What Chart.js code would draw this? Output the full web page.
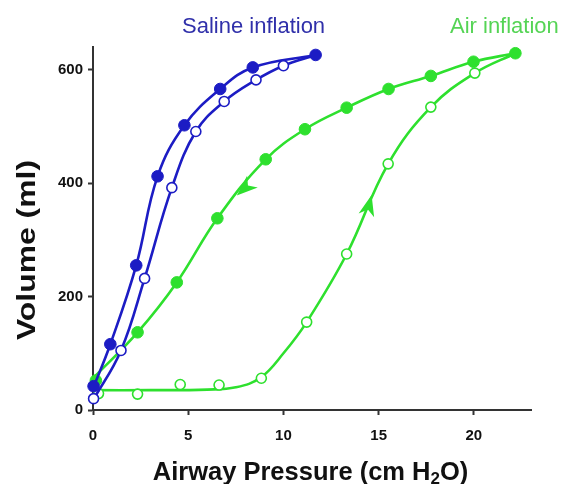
<!DOCTYPE html>
<html lang="en">
<head>
    <meta charset="UTF-8">
    <title>Pressure-volume curves</title>
    <style>
        body {
            margin: 0;
            background: #ffffff;
        }
        #contenedor {
            width: 562px;
            height: 484px;
            position: relative;
        }
    </style>
    <script src="https://cdn.jsdelivr.net/npm/chart.js"></script>
</head>
<body>

<div id="contenedor">
    <canvas id="grafico"></canvas>
</div>

<script>
// Ticks de los ejes
const presionTicks = [0, 5, 10, 15, 20];
const volumenTicks = [0, 200, 400, 600];

// Salino: puntos medidos (llenos = deflación, vacíos = inflación)
const salinoDefX = [0.03, 0.91, 2.27, 3.39, 4.80, 6.68, 8.39, 11.69];
const salinoDefY = [42, 116, 255, 412, 502, 566, 604, 626];
const salinoInfX = [0.03, 1.47, 2.71, 4.14, 5.40, 6.89, 8.56, 10.0];
const salinoInfY = [20, 105, 232, 392, 491, 544, 582, 607];

// Aire: puntos medidos
const aireDefX = [0.15, 2.34, 4.40, 6.53, 9.07, 11.13, 13.32, 15.52, 17.74, 19.98, 22.18];
const aireDefY = [52, 137, 225, 338, 442, 495, 533, 566, 589, 614, 629];
const aireInfX = [0.29, 2.34, 4.58, 6.62, 8.84, 11.22, 13.32, 15.50, 17.74, 20.05];
const aireInfY = [29, 28, 45, 44, 56, 155, 275, 434, 534, 594];

// Curvas ajustadas
const curvaSalDefX = [0, 0.91, 2.27, 3.39, 4.80, 6.68, 8.39, 11.69];
const curvaSalDefY = [38, 116, 255, 412, 502, 566, 604, 626];
const curvaSalInfX = [0, 1.47, 2.71, 4.14, 5.40, 6.89, 8.56, 10.0, 11.69];
const curvaSalInfY = [17, 105, 232, 392, 491, 544, 582, 607, 626];
const curvaAireDefX = [0, 2.34, 4.40, 6.53, 9.07, 11.13, 13.32, 15.52, 17.74, 19.98, 22.18];
const curvaAireDefY = [56, 137, 225, 338, 442, 495, 533, 566, 589, 614, 629];
const curvaAireInfX = [0, 3, 6, 7.5, 8.8, 10, 11.22, 13.32, 15.5, 17.74, 20.05, 22.18];
const curvaAireInfY = [35, 35, 36, 40, 57, 100, 155, 275, 434, 534, 594, 629];

// Flechas sobre las curvas de aire (punta y base)
const flechaPuntaX = [7.55, 14.63];
const flechaPuntaY = [378, 379];
const flechaBaseX = [8.45, 14.37];
const flechaBaseY = [405, 345];

const azul = '#1c1cc4';
const verde = '#2ee02e';
const fuente = '"Liberation Sans", Arial, sans-serif';

function puntos(xs, ys) {
    return xs.map((x, i) => ({ x: x, y: ys[i] }));
}

function curva(xs, ys, color) {
    return {
        data: puntos(xs, ys),
        showLine: true,
        borderColor: color,
        borderWidth: 2.6,
        pointRadius: 0,
        tension: 0.4,
        clip: false
    };
}

function marcadores(xs, ys, color, lleno) {
    return {
        data: puntos(xs, ys),
        showLine: false,
        pointRadius: lleno ? 5.8 : 5,
        pointBorderWidth: lleno ? 1 : 1.6,
        pointBorderColor: color,
        pointBackgroundColor: lleno ? color : '#ffffff',
        clip: false
    };
}

// Textos y flechas dibujados a mano
const extras = {
    id: 'extras',
    afterDatasetsDraw(chart) {
        const ctx = chart.ctx;
        const sx = chart.scales.x;
        const sy = chart.scales.y;

        ctx.save();
        ctx.fillStyle = verde;
        for (let i = 0; i < flechaPuntaX.length; i++) {
            const px = sx.getPixelForValue(flechaPuntaX[i]);
            const py = sy.getPixelForValue(flechaPuntaY[i]);
            const bx = sx.getPixelForValue(flechaBaseX[i]);
            const by = sy.getPixelForValue(flechaBaseY[i]);
            const ang = Math.atan2(py - by, px - bx);
            ctx.save();
            ctx.translate(px, py);
            ctx.rotate(ang);
            ctx.beginPath();
            ctx.moveTo(0, 0);
            ctx.lineTo(-21, -8);
            ctx.lineTo(-15, 0);
            ctx.lineTo(-21, 8);
            ctx.closePath();
            ctx.fill();
            ctx.restore();
        }
        ctx.restore();
    },
    afterDraw(chart) {
        const ctx = chart.ctx;
        ctx.save();

        // etiquetas de las series
        ctx.textBaseline = 'alphabetic';
        ctx.textAlign = 'left';
        ctx.font = '22px ' + fuente;
        ctx.fillStyle = '#3030aa';
        ctx.fillText('Saline inflation', 182, 33);
        ctx.fillStyle = '#55d455';
        ctx.fillText('Air inflation', 450, 33);

        // título eje Y
        ctx.fillStyle = '#111111';
        ctx.font = 'bold 25.5px ' + fuente;
        ctx.save();
        ctx.translate(35, 250);
        ctx.rotate(-Math.PI / 2);
        ctx.scale(1.25, 1);
        ctx.textAlign = 'center';
        ctx.fillText('Volume (ml)', 0, 0);
        ctx.restore();

        // título eje X con subíndice
        const grande = 'bold 25.5px ' + fuente;
        const chico = 'bold 17px ' + fuente;
        const a = 'Airway Pressure (cm H';
        const b = '2';
        const c = 'O)';
        ctx.font = grande;
        const wa = ctx.measureText(a).width;
        const wc = ctx.measureText(c).width;
        ctx.font = chico;
        const wb = ctx.measureText(b).width;
        let x = 310.5 - (wa + wb + wc) / 2;
        const base = 480;
        ctx.font = grande;
        ctx.fillText(a, x, base);
        x += wa;
        ctx.font = chico;
        ctx.fillText(b, x, base + 4);
        x += wb;
        ctx.font = grande;
        ctx.fillText(c, x, base);

        ctx.restore();
    }
};

const ejeComun = {
    type: 'linear',
    border: { display: true, color: '#333333', width: 2 },
    grid: {
        display: true,
        drawOnChartArea: false,
        drawTicks: true,
        tickLength: 5,
        tickWidth: 2,
        tickColor: '#333333'
    },
    ticks: {
        color: '#111111',
        font: { family: fuente, size: 15, weight: 'bold' }
    }
};

const ctx = document.getElementById('grafico').getContext('2d');
const chart = new Chart(ctx, {
    type: 'scatter',
    data: {
        datasets: [
            marcadores(salinoDefX, salinoDefY, azul, true),
            marcadores(salinoInfX, salinoInfY, azul, false),
            curva(curvaSalDefX, curvaSalDefY, azul),
            curva(curvaSalInfX, curvaSalInfY, azul),
            marcadores(aireDefX, aireDefY, verde, true),
            marcadores(aireInfX, aireInfY, verde, false),
            curva(curvaAireDefX, curvaAireDefY, verde),
            curva(curvaAireInfX, curvaAireInfY, verde)
        ]
    },
    options: {
        responsive: true,
        maintainAspectRatio: false,
        animation: false,
        layout: { padding: { left: 0, top: 47, right: 31, bottom: 0 } },
        plugins: {
            legend: { display: false },
            tooltip: { enabled: false }
        },
        scales: {
            x: {
                ...ejeComun,
                min: 0,
                max: 23,
                ticks: { ...ejeComun.ticks, padding: 12 },
                afterBuildTicks: s => { s.ticks = presionTicks.map(v => ({ value: v })); },
                afterFit: s => { s.height = 74; }
            },
            y: {
                ...ejeComun,
                min: 0,
                max: 640,
                ticks: { ...ejeComun.ticks, padding: 5 },
                afterBuildTicks: s => { s.ticks = volumenTicks.map(v => ({ value: v })); },
                afterFit: s => { s.width = 93; }
            }
        }
    },
    plugins: [extras]
});
</script>

</body>
</html>
